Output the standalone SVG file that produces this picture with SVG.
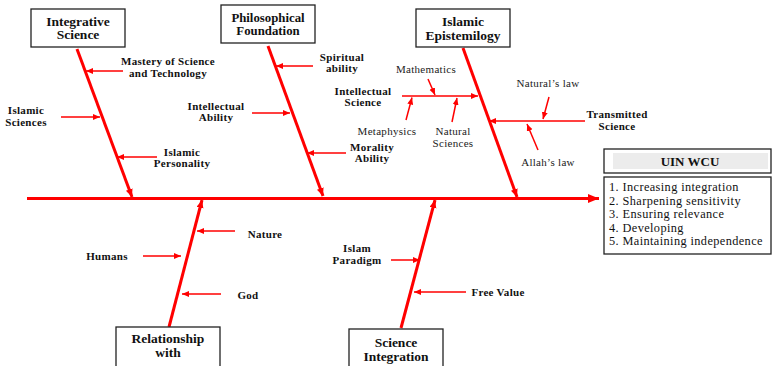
<svg xmlns="http://www.w3.org/2000/svg" width="772" height="366" viewBox="0 0 772 366">
  <style>
    .box { fill: #ffffff; stroke: #222222; stroke-width: 1.3; }
    .title { font-family: "Liberation Serif", "Times New Roman", serif; font-weight: bold; font-size: 13.5px; fill: #111111; text-anchor: middle; }
    .lbl { font-family: "Liberation Serif", "Times New Roman", serif; font-weight: bold; font-size: 11px; letter-spacing: 0.3px; fill: #111111; text-anchor: middle; }
    .reg { font-family: "Liberation Serif", "Times New Roman", serif; font-size: 11px; letter-spacing: 0.3px; fill: #222222; text-anchor: middle; }
    .item { font-family: "Liberation Serif", "Times New Roman", serif; font-size: 12.3px; letter-spacing: 0.4px; fill: #111111; }
    .bone { stroke: #ff0000; stroke-width: 3; fill: none; }
    .rib { stroke: #ff0000; stroke-width: 1.5; fill: none; }
  </style>
  <defs>
    <marker id="headBig" markerUnits="userSpaceOnUse" markerWidth="12" markerHeight="10" refX="11" refY="4.5" orient="auto">
      <path d="M0,0 L11,4.5 L0,9 z" fill="#ff0000"/>
    </marker>
    <marker id="headMid" markerUnits="userSpaceOnUse" markerWidth="9" markerHeight="8" refX="8" refY="3.5" orient="auto">
      <path d="M0,0 L8,3.5 L0,7 z" fill="#ff0000"/>
    </marker>
    <marker id="headSmall" markerUnits="userSpaceOnUse" markerWidth="8" markerHeight="7" refX="7" refY="3" orient="auto">
      <path d="M0,0 L7,3 L0,6 z" fill="#ff0000"/>
    </marker>
  </defs>

  <rect x="0" y="0" width="772" height="366" fill="#ffffff"/>

  <!-- connectors: spine, bones and ribs -->
  <g id="connectors">
    <line class="bone" x1="27" y1="198.5" x2="599" y2="198.5" marker-end="url(#headBig)"/>

    <line class="bone" x1="77" y1="49" x2="132" y2="197" marker-end="url(#headMid)"/>
    <line class="bone" x1="268" y1="46" x2="323" y2="196" marker-end="url(#headMid)"/>
    <line class="bone" x1="463" y1="48" x2="517" y2="197" marker-end="url(#headMid)"/>
    <line class="bone" x1="169" y1="327" x2="202" y2="200" marker-end="url(#headMid)"/>
    <line class="bone" x1="401" y1="328" x2="435" y2="200" marker-end="url(#headMid)"/>

    <!-- Integrative Science ribs -->
    <line class="rib" x1="123" y1="71" x2="86" y2="71" marker-end="url(#headSmall)"/>
    <line class="rib" x1="61" y1="117" x2="100" y2="117" marker-end="url(#headSmall)"/>
    <line class="rib" x1="157" y1="157" x2="117" y2="157" marker-end="url(#headSmall)"/>

    <!-- Philosophical Foundation ribs -->
    <line class="rib" x1="313" y1="66" x2="276" y2="66" marker-end="url(#headSmall)"/>
    <line class="rib" x1="252" y1="113" x2="290" y2="113" marker-end="url(#headSmall)"/>
    <line class="rib" x1="346" y1="153" x2="307" y2="153" marker-end="url(#headSmall)"/>

    <!-- Islamic Epistemilogy ribs -->
    <line class="rib" x1="402" y1="96" x2="478" y2="96" marker-end="url(#headSmall)"/>
    <line class="rib" x1="428" y1="79" x2="435" y2="95" marker-end="url(#headSmall)"/>
    <line class="rib" x1="406" y1="120" x2="412" y2="97.5" marker-end="url(#headSmall)"/>
    <line class="rib" x1="452" y1="122" x2="457" y2="98" marker-end="url(#headSmall)"/>
    <line class="rib" x1="585" y1="121" x2="489" y2="121" marker-end="url(#headSmall)"/>
    <line class="rib" x1="549" y1="97" x2="543" y2="119" marker-end="url(#headSmall)"/>
    <line class="rib" x1="538" y1="150" x2="527" y2="124" marker-end="url(#headSmall)"/>

    <!-- Relationship with ribs -->
    <line class="rib" x1="235" y1="231" x2="197" y2="231" marker-end="url(#headSmall)"/>
    <line class="rib" x1="143" y1="256" x2="181" y2="256" marker-end="url(#headSmall)"/>
    <line class="rib" x1="221" y1="294" x2="182" y2="294" marker-end="url(#headSmall)"/>

    <!-- Science Integration ribs -->
    <line class="rib" x1="391" y1="260" x2="420" y2="260" marker-end="url(#headSmall)"/>
    <line class="rib" x1="466" y1="292" x2="414" y2="292" marker-end="url(#headSmall)"/>
  </g>

  <!-- category nodes -->
  <g id="integrative-science">
    <rect class="box" x="31" y="9" width="94" height="38"/>
    <text class="title" x="78" y="25.5">Integrative</text>
    <text class="title" x="78" y="39">Science</text>
  </g>
  <g id="philosophical-foundation">
    <rect class="box" x="221" y="5" width="94" height="38"/>
    <text class="title" x="268" y="21.5" style="font-size:12.8px">Philosophical</text>
    <text class="title" x="268" y="35" style="font-size:12.8px">Foundation</text>
  </g>
  <g id="islamic-epistemilogy">
    <rect class="box" x="416" y="9" width="94" height="38"/>
    <text class="title" x="463" y="25.5">Islamic</text>
    <text class="title" x="463" y="39.5">Epistemilogy</text>
  </g>
  <g id="relationship-with">
    <rect class="box" x="116" y="327" width="104" height="45"/>
    <text class="title" x="168" y="342.5">Relationship</text>
    <text class="title" x="168" y="357">with</text>
  </g>
  <g id="science-integration">
    <rect class="box" x="349" y="329" width="94" height="45"/>
    <text class="title" x="396" y="346.5">Science</text>
    <text class="title" x="396" y="360.5">Integration</text>
  </g>

  <!-- cause labels -->
  <g id="mastery">
    <text class="lbl" x="168" y="64.5">Mastery of Science</text>
    <text class="lbl" x="168" y="76.5">and Technology</text>
  </g>
  <g id="islamic-sciences">
    <text class="lbl" x="26" y="113.5">Islamic</text>
    <text class="lbl" x="26" y="125.5">Sciences</text>
  </g>
  <g id="islamic-personality">
    <text class="lbl" x="182" y="155.5">Islamic</text>
    <text class="lbl" x="182" y="166.5">Personality</text>
  </g>
  <g id="spiritual-ability">
    <text class="lbl" x="342" y="60.5">Spiritual</text>
    <text class="lbl" x="342" y="71.5">ability</text>
  </g>
  <g id="intellectual-ability">
    <text class="lbl" x="216" y="109.5">Intellectual</text>
    <text class="lbl" x="216" y="120.5">Ability</text>
  </g>
  <g id="morality-ability">
    <text class="lbl" x="372" y="150.5">Morality</text>
    <text class="lbl" x="372" y="161.5">Ability</text>
  </g>
  <g id="intellectual-science">
    <text class="lbl" x="363" y="94.5">Intellectual</text>
    <text class="lbl" x="363" y="105.5">Science</text>
  </g>
  <g id="mathematics">
    <text class="reg" x="426" y="72.5">Mathematics</text>
  </g>
  <g id="metaphysics">
    <text class="reg" x="387" y="134.5">Metaphysics</text>
  </g>
  <g id="natural-sciences">
    <text class="reg" x="453" y="134.5">Natural</text>
    <text class="reg" x="453" y="146.5">Sciences</text>
  </g>
  <g id="transmitted-science">
    <text class="lbl" x="617" y="117.5">Transmitted</text>
    <text class="lbl" x="617" y="129.5">Science</text>
  </g>
  <g id="naturals-law">
    <text class="reg" x="548" y="86.5">Natural’s law</text>
  </g>
  <g id="allahs-law">
    <text class="reg" x="548" y="165.5">Allah’s law</text>
  </g>
  <g id="nature">
    <text class="lbl" x="265" y="237.5">Nature</text>
  </g>
  <g id="humans">
    <text class="lbl" x="107" y="259.5">Humans</text>
  </g>
  <g id="god">
    <text class="lbl" x="248" y="298.5">God</text>
  </g>
  <g id="islam-paradigm">
    <text class="lbl" x="357" y="251.5">Islam</text>
    <text class="lbl" x="357" y="263.5">Paradigm</text>
  </g>
  <g id="free-value">
    <text class="lbl" x="498" y="295.5">Free Value</text>
  </g>

  <!-- outcome node -->
  <g id="uin-wcu">
    <rect class="box" x="604" y="149" width="167" height="24"/>
    <rect x="613" y="153" width="155" height="16" fill="#ececec"/>
    <text class="title" x="690" y="166" style="font-size:13px">UIN WCU</text>
    <rect class="box" x="604" y="177" width="167" height="77"/>
    <text class="item" x="609" y="191">1.  Increasing integration</text>
    <text class="item" x="609" y="204.5">2.  Sharpening sensitivity</text>
    <text class="item" x="609" y="218">3.  Ensuring relevance</text>
    <text class="item" x="609" y="231.5">4.  Developing</text>
    <text class="item" x="609" y="245">5.  Maintaining independence</text>
  </g>
</svg>
